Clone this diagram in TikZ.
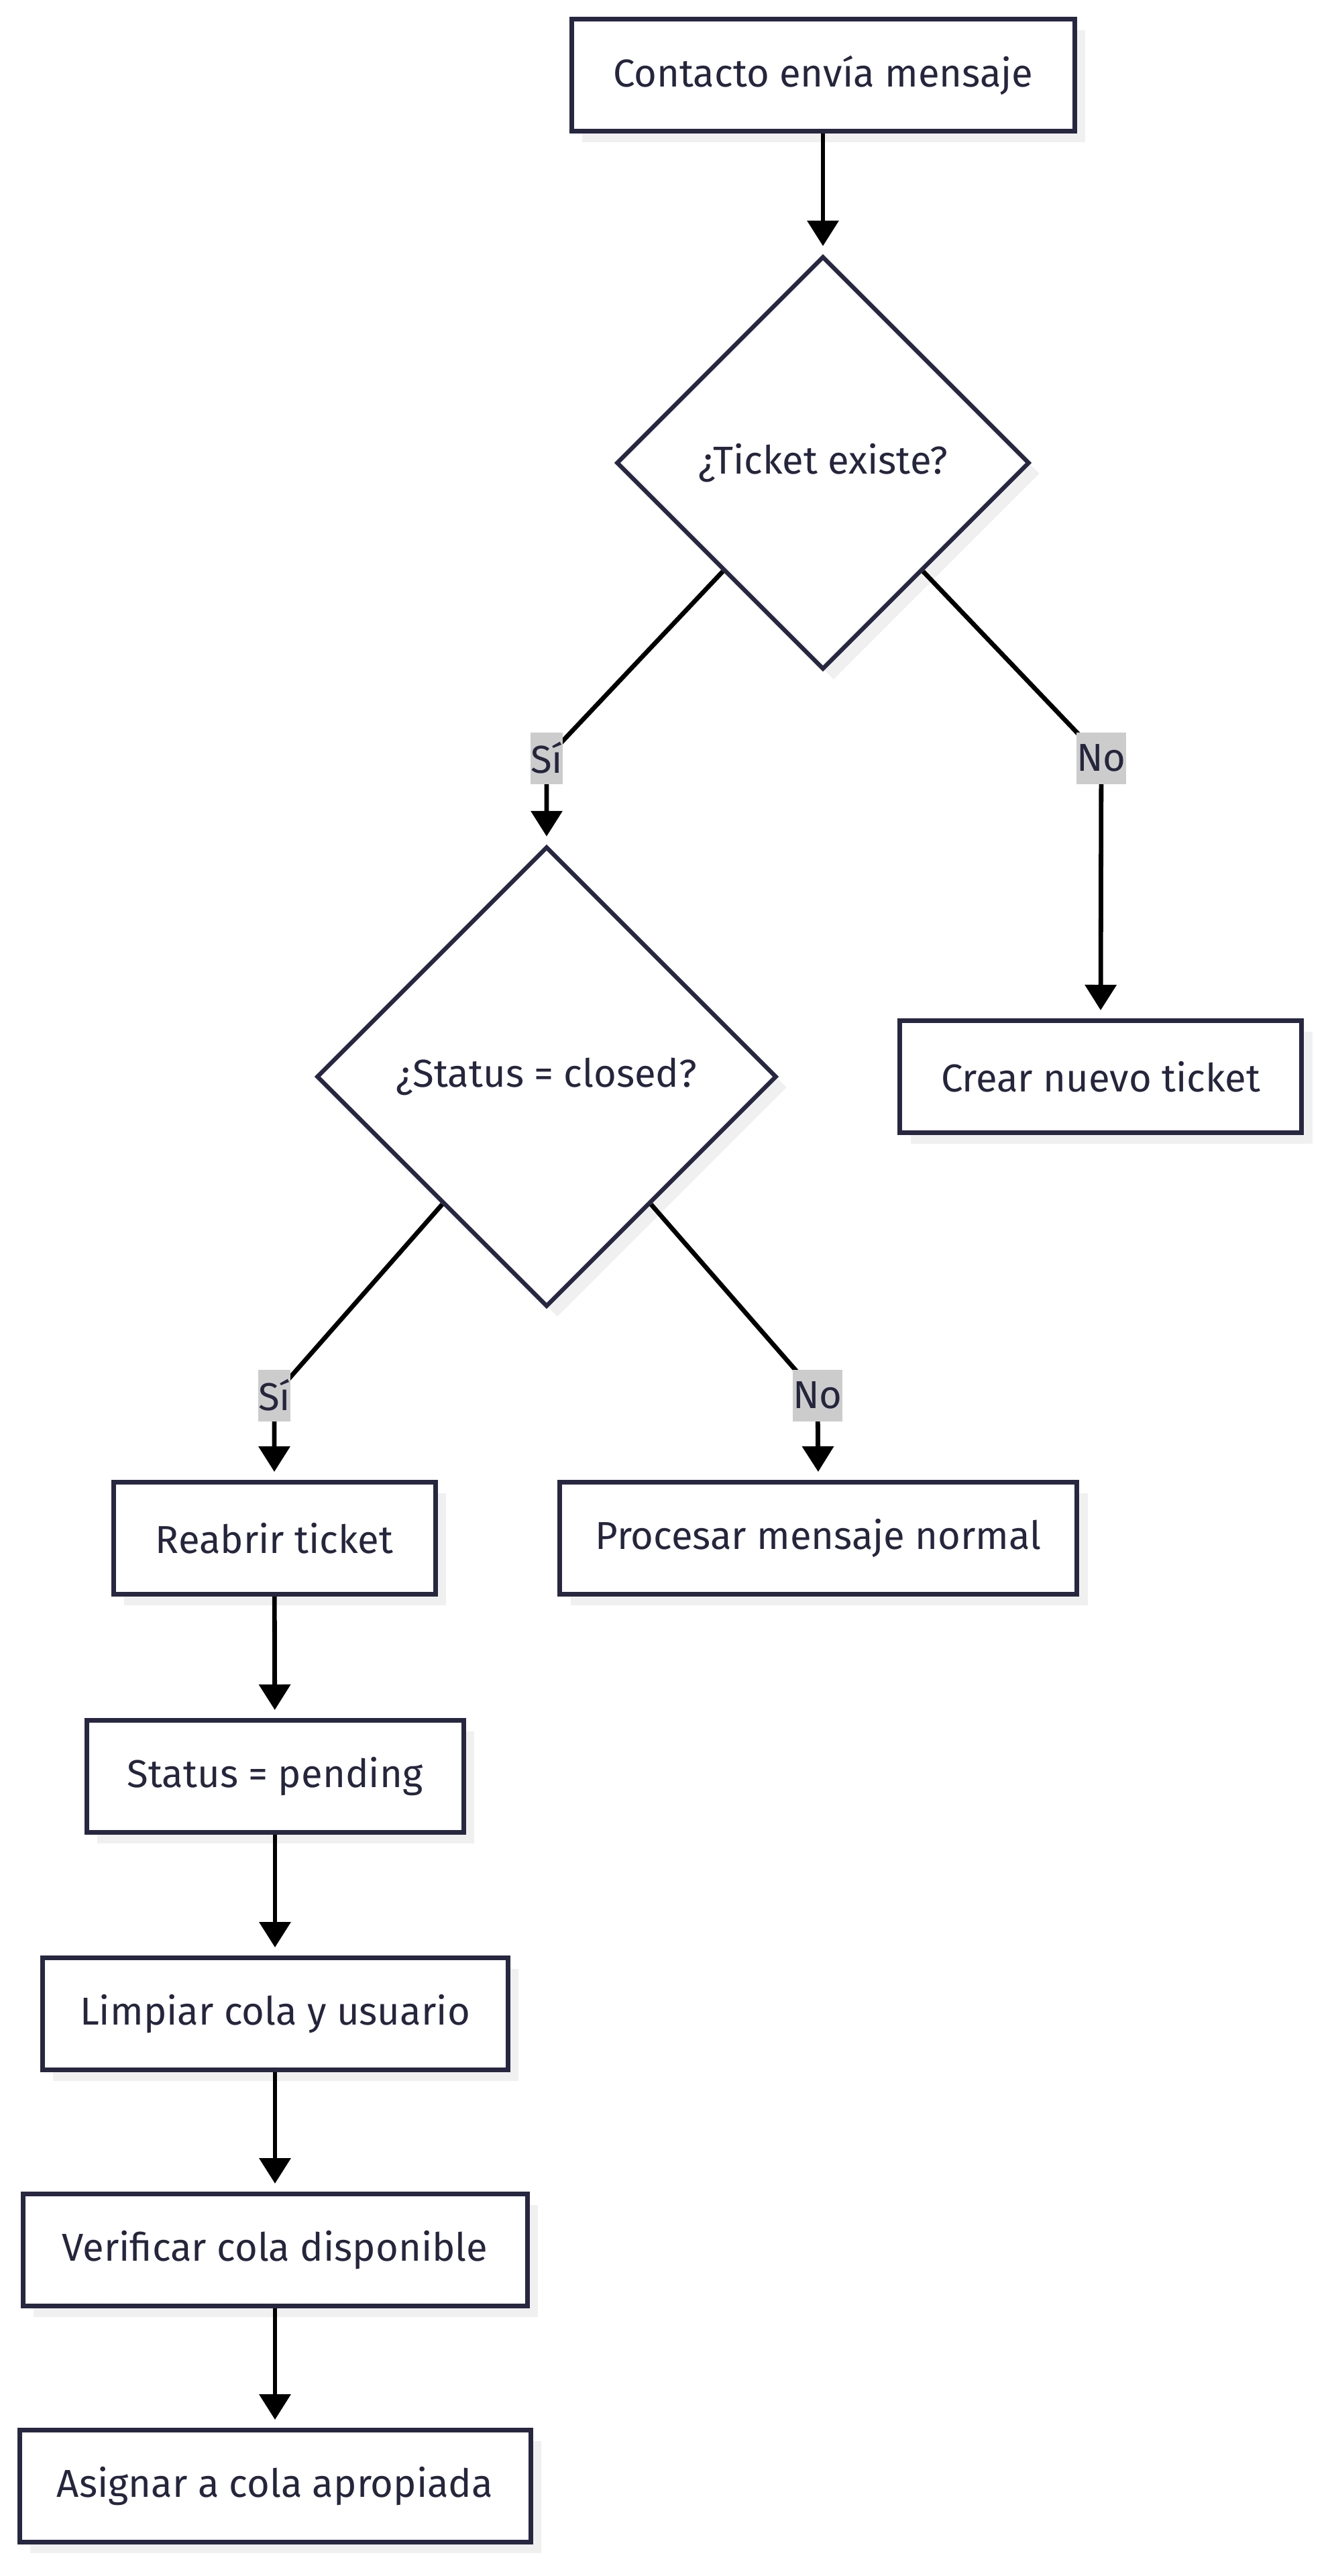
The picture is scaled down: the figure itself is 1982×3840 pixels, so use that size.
\documentclass[tikz,border=0pt]{standalone}
\usepackage{fontspec}
\setmainfont{Fira Sans}
\usetikzlibrary{shapes.geometric,arrows.meta,shadows,calc}
\definecolor{strokec}{HTML}{272741}
\definecolor{txtc}{HTML}{25253D}
\definecolor{shadowc}{HTML}{F0F0F0}
\definecolor{lblbg}{HTML}{CCCCCC}
\begin{document}
\begin{tikzpicture}[x=0.5pt,y=-0.5pt,
  nodefont/.style={font=\fontsize{29}{34}\selectfont},
  procbox/.style={draw=strokec, line width=3.5pt, fill=white, minimum height=83.5pt, inner sep=0pt, text=txtc, nodefont,
    drop shadow={shadow xshift=8pt, shadow yshift=-8pt, fill=shadowc, opacity=1}},
  decbox/.style={diamond, aspect=1, draw=strokec, line width=3.2pt, fill=white, inner sep=0pt, text=txtc, nodefont,
    drop shadow={shadow xshift=8pt, shadow yshift=-8pt, fill=shadowc, opacity=1}},
  edgelbl/.style={fill=lblbg, text=txtc, inner xsep=0pt, inner ysep=0pt, minimum height=38.5pt, nodefont},
  flow/.style={draw=black, line width=3.4pt, -{Triangle[length=19pt,width=23pt]}, shorten >=6pt}
]
\useasboundingbox (0,0) rectangle (1982,3840);
\fill[white] (0,0) rectangle (1982,3840);

\node[procbox, minimum width=375pt] (n1) at (1227,112) {Contacto envía mensaje};
\node[decbox, minimum width=308pt, minimum height=308pt] (d1) at (1227,690) {¿Ticket existe?};
\node[decbox, minimum width=343pt, minimum height=343pt] (d2) at (815,1605) {¿Status = closed?};
\node[procbox, minimum width=299.5pt] (c3) at (1641,1605) {Crear nuevo ticket};
\node[procbox, minimum width=240pt] (r1) at (409,2293) {Reabrir ticket};
\node[procbox, minimum width=385.5pt] (p1) at (1220,2293) {Procesar mensaje normal};
\node[procbox, minimum width=281pt] (s1) at (410,2648) {Status = pending};
\node[procbox, minimum width=347pt] (l1) at (410,3002) {Limpiar cola y usuario};
\node[procbox, minimum width=376pt] (v1) at (410,3354) {Verificar cola disponible};
\node[procbox, minimum width=381pt] (a1) at (410,3706) {Asignar a cola apropiada};

\coordinate (ka) at (815,1130);
\coordinate (kb) at (1642,1130);
\coordinate (kc) at (409,2080);
\coordinate (kd) at (1219,2080);

\draw[flow] (n1.south) -- (d1.north);
\draw[flow] ($(d1.west)!0.52!(d1.south)$) -- (ka) -- (d2.north);
\draw[flow] ($(d1.east)!0.52!(d1.south)$) -- (kb) -- (c3.north);
\draw[flow] ($(d2.west)!0.55!(d2.south)$) -- (kc) -- (r1.north);
\draw[flow] ($(d2.east)!0.55!(d2.south)$) -- (kd) -- (p1.north);
\draw[flow] (r1) -- (s1);
\draw[flow] (s1) -- (l1);
\draw[flow] (l1) -- (v1);
\draw[flow] (v1) -- (a1);

\node[edgelbl] (la) at (ka) {Sí};
\node[edgelbl] (lb) at (kb) {No};
\node[edgelbl] (lc) at (kc) {Sí};
\node[edgelbl] (ld) at (kd) {No};
\end{tikzpicture}
\end{document}
